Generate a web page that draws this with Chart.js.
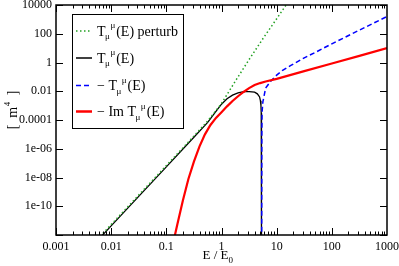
<!DOCTYPE html>
<html>
<head>
<meta charset="utf-8">
<script src="https://cdn.jsdelivr.net/npm/chart.js@4.4.1/dist/chart.umd.min.js"></script>
<style>
  html, body { margin: 0; padding: 0; background: #fff; }
  #wrap { width: 399px; height: 266px; position: relative; }
</style>
</head>
<body>
<div id="wrap"><canvas id="tChart"></canvas></div>
<script>
// energies E/E0 and values [m^4]
const greenE = [0.00631, 0.01, 0.0316, 0.1, 0.316, 0.562, 1, 1.778, 3.162, 5.623, 10, 17.78];
const greenT = [8e-13, 5.3e-12, 6e-10, 6.7e-8, 7.6e-6, 8.5e-5, 1.4e-3, 0.05, 1.6, 45, 1100, 2.8e4];

const blackE = [0.00631, 0.01, 0.0316, 0.1, 0.316, 0.562, 0.794, 1, 1.259, 1.585, 1.995, 2.512, 3.162, 3.981, 4.467, 4.898, 5.07, 5.188, 5.248, 5.297, 5.321];
const blackT = [6.5e-13, 4.3e-12, 4.9e-10, 5.5e-8, 6.3e-6, 6.8e-5, 4.0e-4, 1.26e-3, 3.0e-3, 5.4e-3, 7.8e-3, 9.3e-3, 9.5e-3, 8.7e-3, 6.6e-3, 4.0e-3, 2.2e-3, 1.0e-3, 3.2e-4, 1e-5, 1e-14];

const blueE = [5.346, 5.383, 5.433, 5.623, 6.31, 7.94, 10, 12.59, 17.78, 31.6, 56.2, 100, 316, 1000];
const blueT = [1e-14, 1e-5, 3.2e-4, 1.8e-3, 0.0166, 0.054, 0.132, 0.275, 0.6, 2.1, 6.3, 20, 178, 1585];

const redE = [0.138, 0.1413, 0.1585, 0.1995, 0.2512, 0.3162, 0.398, 0.501, 0.631, 0.794, 1, 1.259, 1.585, 1.995, 2.512, 3.162, 3.981, 5.012, 6.31, 10, 31.6, 100, 316, 1000];
const redT = [5e-13, 7.9e-13, 5.6e-12, 2.5e-10, 7.9e-9, 1.26e-7, 1.4e-6, 1e-5, 4.5e-5, 1.4e-4, 3.5e-4, 8.9e-4, 2.1e-3, 4.5e-3, 8.9e-3, 0.0166, 0.027, 0.037, 0.048, 0.072, 0.25, 0.85, 2.9, 10];

const xTickVals = [0.001, 0.01, 0.1, 1, 10, 100, 1000];
const xTickLabels = ['0.001', '0.01', '0.1', '1', '10', '100', '1000'];
const yTickVals = [1e4, 1e2, 1, 1e-2, 1e-4, 1e-6, 1e-8, 1e-10, 1e-12];
const yTickLabels = ['10000', '100', '1', '0.01', '0.0001', '1e-06', '1e-08', '1e-10', ''];

// legend: text before and after "T_mu^mu"
const legendItems = [
    { pre: '', post: '(E) perturb', color: '#22a022', dash: [1.5, 2.5], width: 1.5 },
    { pre: '', post: '(E)', color: '#000000', dash: [], width: 1.5 },
    { pre: '\u2212 ', post: '(E)', color: '#0000ff', dash: [5, 3], width: 1.5 },
    { pre: '\u2212 Im ', post: '(E)', color: '#ff0000', dash: [], width: 2.5 }
];

const FONT = '"Liberation Serif", "DejaVu Serif", serif';
const pts = (xs, ys) => xs.map((x, i) => ({ x: x, y: ys[i] }));

function drawTmu(ctx, x, y, pre, post) {
    ctx.font = '14px ' + FONT;
    ctx.fillText(pre, x, y);
    x += ctx.measureText(pre).width;
    ctx.fillText('T', x, y);
    x += ctx.measureText('T').width;
    ctx.font = '9px ' + FONT;
    ctx.fillText('\u03bc', x - 0.5, y + 5);
    const w = ctx.measureText('\u03bc').width;
    ctx.fillText('\u03bc', x + w, y - 6);
    x += 2 * w + 1;
    ctx.font = '14px ' + FONT;
    ctx.fillText(post, x, y);
}

const decorPlugin = {
    id: 'decor',
    afterDatasetsDraw(chart) {
        const { ctx, chartArea: a, scales } = chart;
        const xs = scales.x, ys = scales.y;
        ctx.save();
        ctx.strokeStyle = '#000';
        ctx.lineWidth = 1;
        ctx.beginPath();
        // inward x ticks, bottom and top
        for (let k = -3; k < 3; k++) {
            for (let d = 1; d < 10; d++) {
                const px = Math.round(xs.getPixelForValue(d * Math.pow(10, k))) + 0.5;
                const len = d === 1 ? 7 : 3.5;
                ctx.moveTo(px, a.bottom); ctx.lineTo(px, a.bottom - len);
                ctx.moveTo(px, a.top); ctx.lineTo(px, a.top + len);
            }
        }
        // inward y ticks, left and right
        yTickVals.forEach(v => {
            const py = Math.round(ys.getPixelForValue(v)) + 0.5;
            ctx.moveTo(a.left, py); ctx.lineTo(a.left + 7, py);
            ctx.moveTo(a.right, py); ctx.lineTo(a.right - 7, py);
        });
        ctx.stroke();
        ctx.lineWidth = 1.5;
        ctx.strokeRect(a.left, a.top, a.right - a.left, a.bottom - a.top);

        // legend box
        ctx.fillStyle = '#fff';
        ctx.fillRect(72, 14, 112, 115);
        ctx.lineWidth = 1;
        ctx.strokeRect(72.5, 14.5, 111, 114);
        const rows = [31, 58, 85.5, 111.5];
        ctx.textBaseline = 'middle';
        legendItems.forEach((it, i) => {
            ctx.beginPath();
            ctx.strokeStyle = it.color;
            ctx.lineWidth = it.width;
            ctx.setLineDash(it.dash);
            ctx.moveTo(76, rows[i]); ctx.lineTo(92, rows[i]);
            ctx.stroke();
            ctx.setLineDash([]);
            ctx.fillStyle = '#000';
            drawTmu(ctx, 97, rows[i] + 1, it.pre, it.post);
        });

        // axis titles
        ctx.fillStyle = '#000';
        ctx.font = '13px ' + FONT;
        ctx.textBaseline = 'alphabetic';
        const t1 = 'E / E';
        const tw = ctx.measureText(t1).width;
        const cx = (a.left + a.right) / 2 - 6;
        ctx.fillText(t1, cx - tw / 2, 259);
        ctx.font = '9px ' + FONT;
        ctx.fillText('0', cx + tw / 2, 263);

        ctx.translate(17, 110);
        ctx.rotate(-Math.PI / 2);
        ctx.font = '14px ' + FONT;
        const p1 = '[  m', p3 = '  ]';
        ctx.font = '9px ' + FONT;
        const w2 = ctx.measureText('4').width;
        ctx.font = '14px ' + FONT;
        const w1 = ctx.measureText(p1).width, w3 = ctx.measureText(p3).width;
        let sx = -(w1 + w2 + w3) / 2;
        ctx.fillText(p1, sx, 0);
        ctx.font = '9px ' + FONT;
        ctx.fillText('4', sx + w1 + 0.5, -7);
        ctx.font = '14px ' + FONT;
        ctx.fillText(p3, sx + w1 + w2, 0);
        ctx.restore();
    }
};

new Chart(document.getElementById('tChart'), {
    type: 'line',
    data: {
        datasets: [{
            label: 'T perturb',
            data: pts(greenE, greenT),
            borderColor: '#22a022',
            borderWidth: 1.5,
            borderDash: [1.5, 2.5],
            order: 3
        }, {
            label: 'T',
            data: pts(blackE, blackT),
            borderColor: '#000000',
            borderWidth: 1.3,
            order: 4
        }, {
            label: '-T',
            data: pts(blueE, blueT),
            borderColor: '#0000ff',
            borderWidth: 1.5,
            borderDash: [5, 3],
            order: 2
        }, {
            label: '-Im T',
            data: pts(redE, redT),
            borderColor: '#ff0000',
            borderWidth: 2.2,
            order: 1
        }]
    },
    options: {
        responsive: true,
        maintainAspectRatio: false,
        animation: false,
        devicePixelRatio: 1,
        layout: { padding: { top: 5, right: 12, bottom: 0, left: 0 } },
        elements: { point: { radius: 0 }, line: { tension: 0, fill: false } },
        scales: {
            x: {
                type: 'logarithmic',
                min: 0.001,
                max: 1000,
                grid: { display: false, drawTicks: false },
                border: { display: false },
                afterBuildTicks: (scale) => { scale.ticks = xTickVals.map(v => ({ value: v })); },
                afterFit: (scale) => {
                    scale.height = 31;
                    scale.paddingLeft = 0; scale.paddingRight = 0;
                },
                ticks: {
                    autoSkip: false,
                    maxRotation: 0,
                    padding: 5,
                    color: '#000',
                    font: { family: FONT, size: 12 },
                    callback: (v, i) => xTickLabels[i]
                }
            },
            y: {
                type: 'logarithmic',
                min: 1e-12,
                max: 1e4,
                grid: { display: false, drawTicks: false },
                border: { display: false },
                afterBuildTicks: (scale) => { scale.ticks = yTickVals.map(v => ({ value: v })); },
                afterFit: (scale) => {
                    scale.width = 56;
                    scale.paddingTop = 0; scale.paddingBottom = 0;
                },
                ticks: {
                    autoSkip: false,
                    padding: 4,
                    color: '#000',
                    font: { family: FONT, size: 12 },
                    callback: (v, i) => yTickLabels[i]
                }
            }
        },
        plugins: {
            legend: { display: false },
            tooltip: { enabled: false }
        }
    },
    plugins: [decorPlugin]
});
</script>
</body>
</html>
